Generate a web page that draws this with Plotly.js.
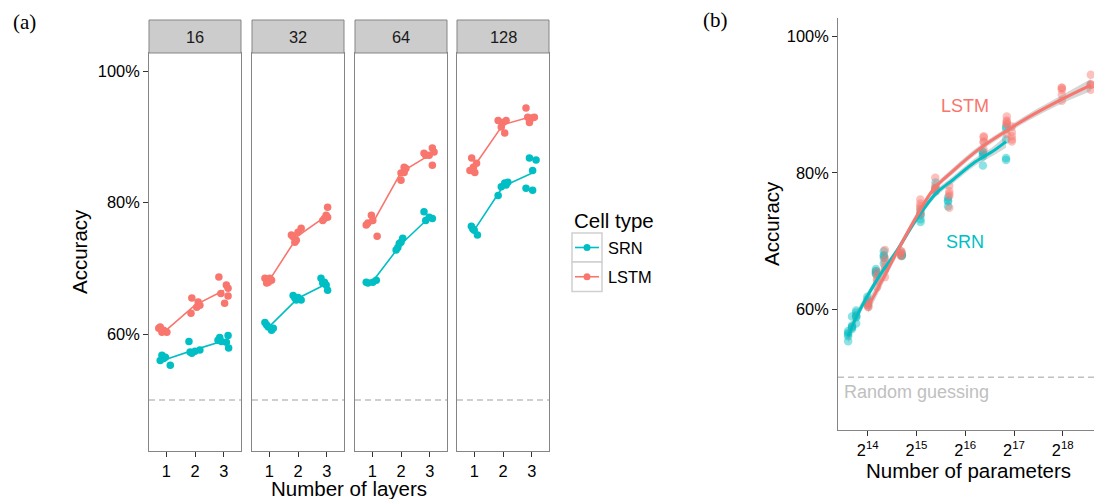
<!DOCTYPE html>
<html>
<head>
<meta charset="utf-8">
<script src="https://cdn.plot.ly/plotly-3.0.1.min.js"></script>
<style>html,body{margin:0;padding:0;background:#fff;}#chart{width:1094px;height:499px;}</style>
</head>
<body>
<div id="chart"></div>
<script>
// ---------------- DATA ----------------
const cellTypes = ['SRN', 'LSTM'];
const hiddenUnits = [16, 32, 64, 128];
const layerTicks = [1, 2, 3];
const accTicks = [60, 80, 100];
const accTickText = ['60%', '80%', '100%'];
const paramTicks = [16384, 32768, 65536, 131072, 262144];
const paramTickText = ['2<sup>14</sup>', '2<sup>15</sup>', '2<sup>16</sup>', '2<sup>17</sup>', '2<sup>18</sup>'];
const randomGuess = 50;

// jittered layer position and accuracy (%) of each run, panel (a)
const srn16Layer  = [0.85,0.91,0.79,1.14,0.97, 1.79,1.83,2.00,2.17,1.89, 2.86,3.15,3.09,2.92,3.17,2.80];
const srn16Acc    = [56.8,56.3,56.0,55.3,56.5, 58.9,57.3,57.4,57.6,57.1, 59.5,59.8,58.8,58.9,57.9,59.1];
const lstm16Layer = [0.79,0.91,1.02,0.85,0.74, 1.89,2.11,2.06,1.86,2.17, 2.83,3.09,3.15,3.15,3.03,2.90];
const lstm16Acc   = [61.1,60.6,60.3,60.3,60.9, 65.5,64.9,64.1,63.2,64.4, 68.7,67.5,67.0,65.8,64.7,66.2];

const srn32Layer  = [0.85,0.97,1.14,1.08,0.91, 1.83,1.94,2.11,1.89,2.00, 2.80,2.86,2.98,3.03,2.92];
const srn32Acc    = [61.8,61.1,60.9,60.6,61.4, 65.9,65.2,65.2,65.5,65.6, 68.5,67.8,67.5,66.7,67.9];
const lstm32Layer = [0.85,0.97,1.08,0.91,1.02, 1.77,1.89,2.11,2.00,1.83,1.94, 3.03,2.98,2.86,3.03,2.92];
const lstm32Acc   = [68.5,67.9,68.2,67.8,68.5, 75.1,74.0,76.1,75.5,74.8,74.3, 79.3,78.1,77.3,77.8,77.6];

const srn64Layer  = [0.85,1.02,1.14,0.79, 1.83,1.94,2.06,1.89,2.00, 2.80,2.86,3.09,2.98];
const srn64Acc    = [67.8,67.9,68.2,67.9, 72.8,73.8,74.6,73.2,74.0, 78.6,77.3,77.6,77.8];
const lstm64Layer = [0.85,0.97,1.02,0.79,1.17, 2.00,2.11,2.00,2.11,2.17, 2.80,3.09,3.15,2.98,3.09,2.86];
const lstm64Acc   = [76.9,78.1,77.3,76.6,74.9, 84.5,85.4,83.4,84.6,85.2, 87.5,88.3,87.7,87.2,85.7,87.2];

const srn128Layer  = [0.90,0.95,1.00,1.11, 1.83,1.94,2.06,2.17,2.11, 2.92,3.15,3.03,2.80,3.03];
const srn128Acc    = [76.4,76.0,75.8,75.1, 81.1,82.4,83.0,83.1,82.7, 86.8,86.5,84.9,82.2,81.9];
const lstm128Layer = [0.91,0.97,1.08,0.85,1.02, 1.83,2.00,2.11,1.94,2.06, 2.80,2.86,3.03,3.09,2.92];
const lstm128Acc   = [86.8,85.4,86.0,84.9,84.6, 92.5,92.2,92.5,91.5,90.6, 94.4,93.0,92.9,93.0,92.2];

// number of parameters per [hidden units][layers], panel (b)
const srnParams  = [[12400, 13100, 13900], [16300, 18400, 20600], [26600, 34700, 43000], [51300, 84200, 117000]];
const lstmParams = [[16500, 18700, 20900], [26300, 34600, 42800], [52200, 85200, 118200], [127000, 258600, 390200]];

// smoothed fit, panel (b)
const srnSmoothParams  = [12417, 13777, 16384, 19484, 24834, 32768, 43238, 55109, 75281, 95870, 117000];
const srnSmoothAcc     = [56.0, 58.6, 62.0, 65.0, 68.6, 73.2, 77.0, 79.0, 81.6, 83.1, 84.6];
const srnSmoothSe      = [1.0, 0.8, 0.6, 0.5, 0.45, 0.45, 0.45, 0.5, 0.55, 0.65, 0.9];
const lstmSmoothParams = [16500, 19484, 24834, 32768, 41743, 55109, 80684, 118016, 161377, 252837, 390200];
const lstmSmoothAcc    = [60.4, 63.6, 68.4, 73.6, 77.6, 80.3, 83.6, 86.2, 88.2, 90.7, 92.9];
const lstmSmoothSe     = [1.0, 0.8, 0.6, 0.5, 0.45, 0.45, 0.45, 0.45, 0.5, 0.6, 0.9];

// ---------------- STYLE / LAYOUT ----------------
const W = 1094, H = 499;
const colors = {SRN: '#00BFC4', LSTM: '#F8766D'};
const FONT = 'Liberation Sans, Arial, Helvetica, sans-serif';
const px = x => x / W;
const py = y => 1 - y / H;

const facetSeries = [
  {SRN: [srn16Layer, srn16Acc], LSTM: [lstm16Layer, lstm16Acc]},
  {SRN: [srn32Layer, srn32Acc], LSTM: [lstm32Layer, lstm32Acc]},
  {SRN: [srn64Layer, srn64Acc], LSTM: [lstm64Layer, lstm64Acc]},
  {SRN: [srn128Layer, srn128Acc], LSTM: [lstm128Layer, lstm128Acc]}
];
const paramsOf = {SRN: srnParams, LSTM: lstmParams};

const facetLeft = [149, 252, 355, 457];
const facetW = 92;
const panelTop = 53, panelBot = 451, stripTop = 20;

const traces = [];
const layout = {
  width: W, height: H,
  margin: {l: 0, r: 0, t: 0, b: 0},
  paper_bgcolor: '#fff', plot_bgcolor: 'rgba(0,0,0,0)',
  showlegend: false,
  font: {family: FONT, color: '#000'},
  shapes: [], annotations: []
};

const yRange = [42.25, 102.75];

facetSeries.forEach((fs, i) => {
  const s = i === 0 ? '' : String(i + 1);
  const xa = 'xaxis' + s, ya = 'yaxis' + s;
  layout[xa] = {
    domain: [px(facetLeft[i]), px(facetLeft[i] + facetW)],
    anchor: 'y' + s, range: [0.4, 3.6],
    tickvals: layerTicks, ticktext: layerTicks.map(String),
    ticks: 'outside', ticklen: 5, tickwidth: 1, tickcolor: '#333',
    showline: true, mirror: true, linecolor: '#858585', linewidth: 1,
    showgrid: false, zeroline: false, fixedrange: true,
    tickfont: {size: 16.4, color: '#000', family: FONT}
  };
  layout[ya] = {
    domain: [py(panelBot), py(panelTop)],
    anchor: 'x' + s, range: yRange,
    tickvals: accTicks, ticktext: accTickText,
    ticks: i === 0 ? 'outside' : '', ticklen: 5, tickwidth: 1, tickcolor: '#333',
    showticklabels: i === 0,
    showline: true, mirror: true, linecolor: '#858585', linewidth: 1,
    showgrid: false, zeroline: false, fixedrange: true,
    tickfont: {size: 16.4, color: '#000', family: FONT}
  };
  // random guessing line
  layout.shapes.push({type: 'line', xref: 'x' + s + ' domain', yref: 'y' + s,
    x0: 0, x1: 1, y0: randomGuess, y1: randomGuess,
    line: {color: '#c0c0c0', width: 1.5, dash: '6px,4px'}, layer: 'below'});
  // strip
  layout.shapes.push({type: 'rect', xref: 'paper', yref: 'paper',
    x0: px(facetLeft[i]), x1: px(facetLeft[i] + facetW), y0: py(panelTop), y1: py(stripTop),
    fillcolor: '#cccccc', line: {color: '#858585', width: 1}});
  layout.annotations.push({xref: 'paper', yref: 'paper', x: px(facetLeft[i] + facetW / 2), y: py((stripTop + panelTop) / 2),
    text: String(hiddenUnits[i]), showarrow: false, xanchor: 'center', yanchor: 'middle',
    font: {size: 16.4, color: '#1a1a1a', family: FONT}});

  cellTypes.forEach(ct => {
    const [xs, ys] = fs[ct];
    // mean per layer
    const means = layerTicks.map(L => {
      const v = ys.filter((_, k) => Math.round(xs[k]) === L);
      return v.reduce((a, b) => a + b, 0) / v.length;
    });
    traces.push({x: layerTicks, y: means, xaxis: 'x' + s, yaxis: 'y' + s, mode: 'lines',
      line: {color: colors[ct], width: 1.6}, hoverinfo: 'skip'});
    traces.push({x: xs, y: ys, xaxis: 'x' + s, yaxis: 'y' + s, mode: 'markers',
      marker: {color: colors[ct], size: 7.5, line: {width: 0}}, name: ct});
  });
});

// ---------------- PANEL (b) ----------------
layout.xaxis5 = {
  domain: [px(838), 1], anchor: 'y5', type: 'log',
  range: [Math.log10(Math.pow(2, 13.39)), Math.log10(Math.pow(2, 18.64))],
  tickvals: paramTicks, ticktext: paramTickText,
  ticks: 'outside', ticklen: 5, tickwidth: 1, tickcolor: '#333',
  showline: true, mirror: false, linecolor: '#858585', linewidth: 1,
  showgrid: false, zeroline: false, fixedrange: true,
  tickfont: {size: 16.4, color: '#000', family: FONT}
};
layout.yaxis5 = {
  domain: [py(430), py(18)], anchor: 'x5', range: yRange,
  tickvals: accTicks, ticktext: accTickText,
  ticks: 'outside', ticklen: 5, tickwidth: 1, tickcolor: '#333',
  showline: true, mirror: false, linecolor: '#858585', linewidth: 1,
  showgrid: false, zeroline: false, fixedrange: true,
  tickfont: {size: 16.4, color: '#000', family: FONT}
};
layout.shapes.push({type: 'line', xref: 'x5 domain', yref: 'y5',
  x0: 0, x1: 1, y0: randomGuess, y1: randomGuess,
  line: {color: '#c0c0c0', width: 1.5, dash: '6px,4px'}, layer: 'below'});

// points
cellTypes.forEach(ct => {
  const xs = [], ys = [];
  facetSeries.forEach((fs, i) => {
    const [ls, as] = fs[ct];
    ls.forEach((l, k) => { xs.push(paramsOf[ct][i][Math.round(l) - 1]); ys.push(as[k]); });
  });
  traces.push({x: xs, y: ys, xaxis: 'x5', yaxis: 'y5', mode: 'markers',
    marker: {color: colors[ct], size: 8.5, opacity: 0.45, line: {width: 0}}, hoverinfo: 'skip'});
});
// smooth ribbons & lines
[['SRN', srnSmoothParams, srnSmoothAcc, srnSmoothSe], ['LSTM', lstmSmoothParams, lstmSmoothAcc, lstmSmoothSe]].forEach(([ct, xs, ys, se]) => {
  traces.push({x: xs, y: ys.map((v, k) => v - se[k]), xaxis: 'x5', yaxis: 'y5', mode: 'lines',
    line: {width: 0, shape: 'spline'}, hoverinfo: 'skip'});
  traces.push({x: xs, y: ys.map((v, k) => v + se[k]), xaxis: 'x5', yaxis: 'y5', mode: 'lines',
    line: {width: 0, shape: 'spline'}, fill: 'tonexty', fillcolor: 'rgba(153,153,153,0.4)', hoverinfo: 'skip'});
});
[['SRN', srnSmoothParams, srnSmoothAcc], ['LSTM', lstmSmoothParams, lstmSmoothAcc]].forEach(([ct, xs, ys]) => {
  traces.push({x: xs, y: ys, xaxis: 'x5', yaxis: 'y5', mode: 'lines',
    line: {color: colors[ct], width: 3, shape: 'spline'}, hoverinfo: 'skip'});
});

// ---------------- TEXT ----------------
const ann = (x, y, text, size, opts) => Object.assign({xref: 'paper', yref: 'paper', x: px(x), y: py(y), text: text,
  showarrow: false, xanchor: 'center', yanchor: 'middle', font: {size: size, color: '#000', family: FONT}}, opts || {});
layout.annotations.push(
  ann(24, 22, '(a)', 21, {font: {size: 21, color: '#000', family: 'Liberation Serif, Times New Roman, serif'}}),
  ann(715, 20, '(b)', 21, {font: {size: 21, color: '#000', family: 'Liberation Serif, Times New Roman, serif'}}),
  ann(80, 252, 'Accuracy', 20.5, {textangle: -90}),
  ann(349, 488, 'Number of layers', 20.5),
  ann(771, 224, 'Accuracy', 20.5, {textangle: -90}),
  ann(968, 470, 'Number of parameters', 20.5),
  ann(965, 106, 'LSTM', 18, {font: {size: 18, color: colors.LSTM, family: FONT}}),
  ann(965, 242, 'SRN', 18, {font: {size: 18, color: colors.SRN, family: FONT}}),
  ann(842, 392, 'Random guessing', 18, {xanchor: 'left', font: {size: 18, color: '#c0c0c0', family: FONT}}),
  ann(572, 220, 'Cell type', 20.5, {xanchor: 'left'}),
  ann(606, 248, cellTypes[0], 16.4, {xanchor: 'left'}),
  ann(606, 277, cellTypes[1], 16.4, {xanchor: 'left'})
);
// legend keys
[[233, 262, 'SRN'], [262, 291.5, 'LSTM']].forEach(([y0, y1, ct]) => {
  const yc = (y0 + y1) / 2;
  layout.shapes.push({type: 'rect', xref: 'paper', yref: 'paper', x0: px(572), x1: px(602), y0: py(y1), y1: py(y0),
    fillcolor: '#fff', line: {color: '#d0d0d0', width: 1.5}});
  layout.shapes.push({type: 'line', xref: 'paper', yref: 'paper', x0: px(575), x1: px(599), y0: py(yc), y1: py(yc),
    line: {color: colors[ct], width: 1.6}});
  layout.shapes.push({type: 'circle', xref: 'paper', yref: 'paper', x0: px(583.5), x1: px(590.5), y0: py(yc + 3.5), y1: py(yc - 3.5),
    fillcolor: colors[ct], line: {width: 0}});
});

Plotly.newPlot('chart', traces, layout, {staticPlot: true, displayModeBar: false});
</script>
</body>
</html>
